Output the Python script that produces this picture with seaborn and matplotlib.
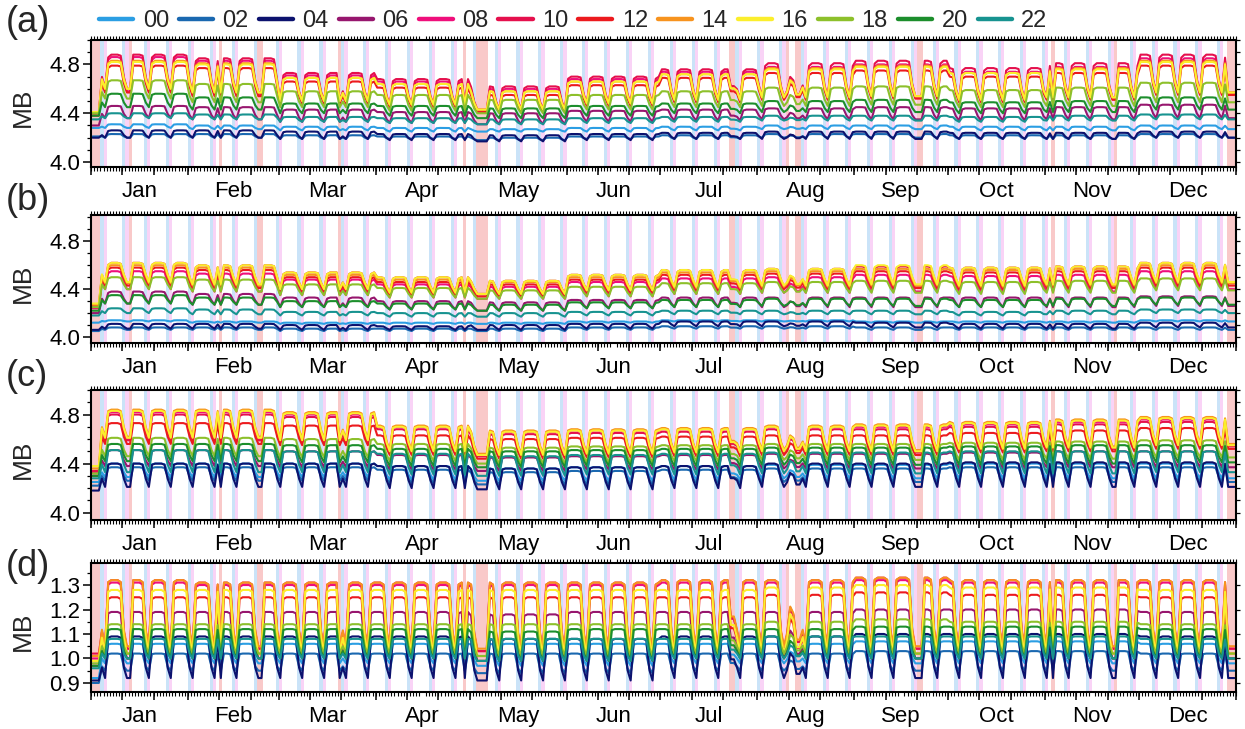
import numpy as np
import pandas as pd
import matplotlib
matplotlib.use("Agg")
import matplotlib.pyplot as plt
from matplotlib.lines import Line2D
from matplotlib.ticker import FormatStrFormatter
import seaborn as sns

sns.set_theme(style="white")
plt.rcParams['font.family'] = ['Liberation Sans', 'DejaVu Sans']

# ---------------- data ----------------
hours = ["00", "02", "04", "06", "08", "10", "12", "14", "16", "18", "20", "22"]
hour_colors = ["#2b9ee3", "#1a68b0", "#0c126e", "#97166e", "#ef0f7b", "#e5104d",
               "#ec1a1e", "#f7931e", "#fbee2c", "#8dc02b", "#1c8e2c", "#179390"]
months = ["Jan", "Feb", "Mar", "Apr", "May", "Jun", "Jul", "Aug", "Sep", "Oct", "Nov", "Dec"]
month_days = [31, 29, 31, 30, 31, 30, 31, 31, 30, 31, 30, 31]   # 2020
first_weekday = 2          # 1 Jan 2020 = Wednesday (Mon=0)

# holidays (day index -> fraction of workday level kept)
holiday_factor = {0: 0, 1: 0, 2: 0, 12: 0, 41: 0, 53: 0, 54: 0, 79: 0, 119: 0,
                  123: 0, 124: 0, 125: 0, 126: 0, 204: 0.45, 205: 0.45, 222: 0.2,
                  225: 0.1, 226: 0.1, 264: 0, 265: 0, 307: 0, 327: 0,
                  363: 0, 364: 0, 365: 0}
partial_days = {223: 0.6, 224: 0.5}
newyear_days = [0, 1, 2]

# weekday shape (Mon..Sun): fraction between off-day and workday level
shape_a = [0.92, 1.0, 1.0, 1.0, 0.97, 0.35, 0.0]
shape_b = [0.90, 1.0, 1.0, 1.0, 0.95, 0.40, 0.0]
shape_c = [0.95, 1.0, 1.0, 1.0, 0.95, 0.35, 0.0]
shape_d = [0.97, 1.0, 1.0, 1.0, 0.97, 0.25, 0.0]

# ---- panel (a): monthly workday / off-day levels ----
a_work = {
    "00": [4.31, 4.30, 4.29, 4.28, 4.27, 4.28, 4.29, 4.30, 4.30, 4.29, 4.29, 4.30],
    "02": [4.23, 4.23, 4.22, 4.21, 4.20, 4.21, 4.22, 4.23, 4.23, 4.22, 4.22, 4.23],
    "04": [4.26, 4.26, 4.25, 4.23, 4.22, 4.23, 4.24, 4.25, 4.25, 4.24, 4.24, 4.25],
    "06": [4.46, 4.45, 4.43, 4.41, 4.40, 4.42, 4.43, 4.44, 4.45, 4.44, 4.45, 4.47],
    "08": [4.86, 4.83, 4.71, 4.66, 4.60, 4.68, 4.74, 4.78, 4.80, 4.74, 4.78, 4.85],
    "10": [4.88, 4.85, 4.73, 4.68, 4.62, 4.70, 4.76, 4.81, 4.83, 4.77, 4.81, 4.88],
    "12": [4.79, 4.77, 4.66, 4.61, 4.55, 4.63, 4.69, 4.73, 4.75, 4.70, 4.73, 4.79],
    "14": [4.83, 4.81, 4.69, 4.64, 4.58, 4.66, 4.72, 4.77, 4.79, 4.73, 4.77, 4.83],
    "16": [4.82, 4.80, 4.69, 4.64, 4.58, 4.66, 4.72, 4.76, 4.78, 4.73, 4.76, 4.82],
    "18": [4.67, 4.64, 4.58, 4.55, 4.51, 4.55, 4.58, 4.61, 4.62, 4.59, 4.61, 4.65],
    "20": [4.56, 4.53, 4.48, 4.46, 4.44, 4.46, 4.48, 4.50, 4.51, 4.49, 4.50, 4.53],
    "22": [4.40, 4.39, 4.37, 4.36, 4.35, 4.36, 4.37, 4.38, 4.38, 4.37, 4.38, 4.39],
}
a_off = {
    "00": [4.28, 4.27, 4.26, 4.25, 4.25, 4.25, 4.26, 4.27, 4.27, 4.26, 4.26, 4.27],
    "02": [4.20, 4.20, 4.19, 4.19, 4.18, 4.19, 4.19, 4.20, 4.20, 4.19, 4.19, 4.20],
    "04": [4.20, 4.20, 4.19, 4.18, 4.17, 4.18, 4.19, 4.19, 4.19, 4.19, 4.19, 4.20],
    "06": [4.36, 4.35, 4.33, 4.32, 4.31, 4.33, 4.34, 4.35, 4.35, 4.34, 4.35, 4.36],
    "08": [4.58, 4.55, 4.49, 4.46, 4.42, 4.47, 4.50, 4.52, 4.53, 4.50, 4.52, 4.56],
    "10": [4.60, 4.57, 4.50, 4.47, 4.43, 4.48, 4.51, 4.53, 4.54, 4.51, 4.53, 4.57],
    "12": [4.57, 4.54, 4.48, 4.45, 4.41, 4.46, 4.49, 4.51, 4.52, 4.49, 4.51, 4.55],
    "14": [4.60, 4.57, 4.50, 4.47, 4.43, 4.48, 4.51, 4.53, 4.54, 4.51, 4.53, 4.57],
    "16": [4.60, 4.57, 4.50, 4.47, 4.43, 4.48, 4.51, 4.53, 4.54, 4.51, 4.53, 4.57],
    "18": [4.52, 4.49, 4.45, 4.42, 4.40, 4.43, 4.45, 4.46, 4.47, 4.45, 4.46, 4.49],
    "20": [4.45, 4.43, 4.40, 4.38, 4.36, 4.38, 4.40, 4.41, 4.41, 4.40, 4.41, 4.43],
    "22": [4.36, 4.35, 4.33, 4.32, 4.31, 4.32, 4.33, 4.34, 4.34, 4.33, 4.34, 4.35],
}
a_newyear = [4.28, 4.21, 4.20, 4.30, 4.40, 4.40, 4.38, 4.40, 4.41, 4.40, 4.38, 4.35]

# ---- panel (b) ----
b_work = {
    "00": [4.14, 4.13, 4.12, 4.12, 4.12, 4.13, 4.14, 4.14, 4.13, 4.13, 4.13, 4.14],
    "02": [4.08, 4.08, 4.07, 4.07, 4.07, 4.08, 4.09, 4.09, 4.08, 4.08, 4.08, 4.08],
    "04": [4.11, 4.11, 4.10, 4.09, 4.10, 4.11, 4.13, 4.13, 4.12, 4.11, 4.11, 4.12],
    "06": [4.38, 4.36, 4.33, 4.30, 4.29, 4.31, 4.33, 4.33, 4.33, 4.33, 4.33, 4.34],
    "08": [4.55, 4.53, 4.48, 4.44, 4.42, 4.46, 4.49, 4.50, 4.52, 4.51, 4.52, 4.55],
    "10": [4.62, 4.60, 4.54, 4.50, 4.47, 4.52, 4.56, 4.57, 4.59, 4.58, 4.59, 4.62],
    "12": [4.58, 4.56, 4.50, 4.46, 4.44, 4.48, 4.52, 4.53, 4.55, 4.54, 4.55, 4.58],
    "14": [4.60, 4.58, 4.52, 4.48, 4.46, 4.50, 4.54, 4.55, 4.57, 4.56, 4.57, 4.60],
    "16": [4.62, 4.60, 4.54, 4.50, 4.47, 4.52, 4.56, 4.57, 4.60, 4.58, 4.59, 4.62],
    "18": [4.50, 4.48, 4.44, 4.41, 4.39, 4.42, 4.45, 4.46, 4.47, 4.46, 4.47, 4.49],
    "20": [4.35, 4.33, 4.30, 4.28, 4.27, 4.29, 4.31, 4.32, 4.32, 4.31, 4.32, 4.33],
    "22": [4.24, 4.23, 4.21, 4.20, 4.20, 4.21, 4.22, 4.22, 4.22, 4.21, 4.22, 4.23],
}
b_off = {
    "00": [4.13, 4.12, 4.11, 4.11, 4.11, 4.12, 4.13, 4.13, 4.12, 4.12, 4.12, 4.13],
    "02": [4.06, 4.06, 4.05, 4.05, 4.05, 4.06, 4.07, 4.07, 4.06, 4.06, 4.06, 4.06],
    "04": [4.07, 4.07, 4.06, 4.06, 4.06, 4.07, 4.09, 4.09, 4.08, 4.07, 4.07, 4.08],
    "06": [4.28, 4.27, 4.25, 4.23, 4.22, 4.24, 4.25, 4.25, 4.25, 4.25, 4.25, 4.26],
    "08": [4.40, 4.38, 4.35, 4.33, 4.32, 4.34, 4.36, 4.37, 4.38, 4.37, 4.38, 4.40],
    "10": [4.45, 4.43, 4.40, 4.37, 4.36, 4.39, 4.41, 4.42, 4.43, 4.42, 4.43, 4.45],
    "12": [4.43, 4.41, 4.38, 4.35, 4.34, 4.37, 4.39, 4.40, 4.41, 4.40, 4.41, 4.43],
    "14": [4.45, 4.43, 4.40, 4.37, 4.36, 4.39, 4.41, 4.42, 4.43, 4.42, 4.43, 4.45],
    "16": [4.46, 4.44, 4.40, 4.37, 4.36, 4.39, 4.42, 4.43, 4.44, 4.43, 4.44, 4.46],
    "18": [4.40, 4.38, 4.35, 4.33, 4.32, 4.34, 4.36, 4.37, 4.37, 4.36, 4.37, 4.39],
    "20": [4.28, 4.27, 4.25, 4.23, 4.22, 4.24, 4.25, 4.26, 4.26, 4.25, 4.26, 4.27],
    "22": [4.20, 4.19, 4.18, 4.17, 4.17, 4.18, 4.19, 4.19, 4.19, 4.18, 4.19, 4.20],
}
b_newyear = [4.12, 4.05, 4.06, 4.20, 4.24, 4.26, 4.25, 4.27, 4.28, 4.25, 4.22, 4.18]

# ---- panel (c) ----
c_work = {
    "00": [4.40, 4.40, 4.40, 4.38, 4.36, 4.37, 4.38, 4.39, 4.39, 4.40, 4.40, 4.40],
    "02": [4.37, 4.37, 4.37, 4.35, 4.33, 4.34, 4.35, 4.36, 4.36, 4.37, 4.37, 4.37],
    "04": [4.40, 4.40, 4.40, 4.38, 4.36, 4.37, 4.38, 4.40, 4.40, 4.41, 4.41, 4.41],
    "06": [4.51, 4.51, 4.50, 4.47, 4.45, 4.46, 4.47, 4.48, 4.48, 4.49, 4.50, 4.50],
    "08": [4.82, 4.82, 4.80, 4.70, 4.66, 4.67, 4.68, 4.70, 4.70, 4.72, 4.74, 4.76],
    "10": [4.80, 4.80, 4.78, 4.68, 4.64, 4.65, 4.66, 4.68, 4.68, 4.70, 4.72, 4.74],
    "12": [4.73, 4.73, 4.71, 4.63, 4.60, 4.61, 4.62, 4.63, 4.63, 4.65, 4.67, 4.69],
    "14": [4.84, 4.84, 4.82, 4.71, 4.67, 4.68, 4.69, 4.71, 4.72, 4.74, 4.76, 4.78],
    "16": [4.83, 4.83, 4.81, 4.70, 4.66, 4.67, 4.68, 4.70, 4.71, 4.73, 4.75, 4.77],
    "18": [4.61, 4.61, 4.60, 4.56, 4.53, 4.54, 4.55, 4.56, 4.56, 4.57, 4.58, 4.59],
    "20": [4.56, 4.56, 4.55, 4.52, 4.50, 4.51, 4.52, 4.53, 4.53, 4.54, 4.55, 4.55],
    "22": [4.51, 4.51, 4.50, 4.48, 4.46, 4.47, 4.48, 4.49, 4.49, 4.50, 4.50, 4.50],
}
c_off = {
    "00": [4.29, 4.29, 4.29, 4.27, 4.26, 4.26, 4.27, 4.28, 4.28, 4.28, 4.28, 4.28],
    "02": [4.26, 4.26, 4.26, 4.24, 4.23, 4.23, 4.24, 4.25, 4.25, 4.25, 4.25, 4.25],
    "04": [4.21, 4.21, 4.21, 4.20, 4.19, 4.19, 4.20, 4.21, 4.21, 4.21, 4.21, 4.21],
    "06": [4.38, 4.38, 4.37, 4.35, 4.34, 4.35, 4.35, 4.36, 4.36, 4.36, 4.37, 4.37],
    "08": [4.60, 4.60, 4.58, 4.50, 4.47, 4.48, 4.49, 4.50, 4.50, 4.52, 4.53, 4.55],
    "10": [4.59, 4.59, 4.57, 4.49, 4.46, 4.47, 4.48, 4.49, 4.49, 4.51, 4.52, 4.54],
    "12": [4.56, 4.56, 4.55, 4.47, 4.44, 4.45, 4.46, 4.47, 4.47, 4.49, 4.50, 4.52],
    "14": [4.62, 4.62, 4.60, 4.51, 4.48, 4.49, 4.50, 4.51, 4.51, 4.53, 4.54, 4.56],
    "16": [4.61, 4.61, 4.59, 4.50, 4.47, 4.48, 4.49, 4.50, 4.50, 4.52, 4.53, 4.55],
    "18": [4.46, 4.46, 4.45, 4.42, 4.40, 4.41, 4.42, 4.43, 4.43, 4.43, 4.44, 4.45],
    "20": [4.42, 4.42, 4.41, 4.38, 4.37, 4.38, 4.38, 4.39, 4.39, 4.39, 4.40, 4.41],
    "22": [4.33, 4.33, 4.33, 4.31, 4.30, 4.31, 4.31, 4.32, 4.32, 4.32, 4.32, 4.33],
}
c_newyear = [4.25, 4.22, 4.18, 4.30, 4.33, 4.34, 4.30, 4.36, 4.38, 4.32, 4.30, 4.28]

# ---- panel (d) ----
d_work = {
    "00": [1.06, 1.06, 1.06, 1.06, 1.06, 1.06, 1.06, 1.06, 1.07, 1.07, 1.07, 1.06],
    "02": [1.02, 1.02, 1.02, 1.02, 1.02, 1.02, 1.02, 1.02, 1.03, 1.03, 1.03, 1.02],
    "04": [1.09, 1.09, 1.09, 1.09, 1.08, 1.08, 1.09, 1.09, 1.10, 1.10, 1.10, 1.09],
    "06": [1.19, 1.19, 1.19, 1.19, 1.18, 1.19, 1.19, 1.19, 1.20, 1.20, 1.20, 1.19],
    "08": [1.31, 1.30, 1.30, 1.30, 1.30, 1.30, 1.31, 1.31, 1.32, 1.31, 1.31, 1.31],
    "10": [1.32, 1.31, 1.31, 1.31, 1.31, 1.31, 1.32, 1.32, 1.33, 1.32, 1.32, 1.32],
    "12": [1.25, 1.25, 1.25, 1.25, 1.25, 1.25, 1.25, 1.26, 1.27, 1.26, 1.26, 1.25],
    "14": [1.32, 1.31, 1.31, 1.31, 1.31, 1.31, 1.32, 1.32, 1.33, 1.32, 1.32, 1.32],
    "16": [1.28, 1.28, 1.28, 1.28, 1.28, 1.28, 1.28, 1.29, 1.30, 1.29, 1.29, 1.28],
    "18": [1.14, 1.14, 1.14, 1.14, 1.14, 1.14, 1.14, 1.15, 1.16, 1.15, 1.15, 1.14],
    "20": [1.12, 1.12, 1.12, 1.12, 1.11, 1.12, 1.12, 1.12, 1.13, 1.13, 1.13, 1.12],
    "22": [1.08, 1.08, 1.08, 1.08, 1.08, 1.08, 1.08, 1.09, 1.09, 1.09, 1.09, 1.08],
}
d_off = {
    "00": [0.98, 0.98, 0.98, 0.98, 0.97, 0.97, 0.98, 0.98, 0.98, 0.98, 0.98, 0.98],
    "02": [0.95, 0.95, 0.95, 0.95, 0.94, 0.94, 0.95, 0.95, 0.95, 0.95, 0.95, 0.95],
    "04": [0.92, 0.92, 0.92, 0.92, 0.91, 0.91, 0.92, 0.92, 0.92, 0.92, 0.92, 0.92],
    "06": [1.00, 1.00, 1.00, 1.00, 0.99, 0.99, 1.00, 1.00, 1.00, 1.00, 1.00, 1.00],
    "08": [1.04, 1.04, 1.04, 1.04, 1.03, 1.03, 1.04, 1.04, 1.04, 1.04, 1.04, 1.04],
    "10": [1.04, 1.04, 1.04, 1.04, 1.03, 1.03, 1.04, 1.04, 1.04, 1.04, 1.04, 1.04],
    "12": [1.02, 1.02, 1.02, 1.02, 1.01, 1.01, 1.02, 1.02, 1.02, 1.02, 1.02, 1.02],
    "14": [1.05, 1.05, 1.05, 1.05, 1.04, 1.04, 1.05, 1.05, 1.05, 1.05, 1.05, 1.05],
    "16": [1.02, 1.02, 1.02, 1.02, 1.01, 1.01, 1.02, 1.02, 1.02, 1.02, 1.02, 1.02],
    "18": [1.02, 1.02, 1.02, 1.02, 1.01, 1.01, 1.02, 1.02, 1.02, 1.02, 1.02, 1.02],
    "20": [1.00, 1.00, 1.00, 1.00, 0.99, 0.99, 1.00, 1.00, 1.00, 1.00, 1.00, 1.00],
    "22": [1.00, 1.00, 1.00, 1.00, 0.99, 0.99, 1.00, 1.00, 1.00, 1.00, 1.00, 1.00],
}
d_newyear = [0.92, 0.90, 0.91, 0.97, 1.00, 1.02, 0.99, 1.01, 0.99, 0.98, 0.97, 0.96]

# ---------------- calendar ----------------
n_days = sum(month_days)
month_of = np.repeat(np.arange(12), month_days)
dow = (first_weekday + np.arange(n_days)) % 7
month_starts = np.concatenate([[0], np.cumsum(month_days)[:-1]])
month_mids = month_starts + np.array(month_days) / 2.0
dekads = sorted([s + k for s in month_starts for k in (0, 10, 20)] + [n_days])


def build_frame(work, off, newyear, shape):
    recs = []
    for i, h in enumerate(hours):
        w = work[h]
        o = off[h]
        for d in range(n_days):
            m = month_of[d]
            if d in newyear_days:
                v = newyear[i]
            else:
                if d in holiday_factor:
                    f = holiday_factor[d]
                elif d in partial_days:
                    f = partial_days[d]
                else:
                    f = shape[dow[d]]
                v = o[m] + f * (w[m] - o[m])
            recs.append((d + 0.5, v, h))
    return pd.DataFrame(recs, columns=["day", "MB", "hour"])


panels = [
    ("(a)", build_frame(a_work, a_off, a_newyear, shape_a), (3.96, 5.0), [4.0, 4.4, 4.8], 0.1),
    ("(b)", build_frame(b_work, b_off, b_newyear, shape_b), (3.95, 5.02), [4.0, 4.4, 4.8], 0.1),
    ("(c)", build_frame(c_work, c_off, c_newyear, shape_c), (3.94, 5.0), [4.0, 4.4, 4.8], 0.1),
    ("(d)", build_frame(d_work, d_off, d_newyear, shape_d), (0.863, 1.39), [0.9, 1.0, 1.1, 1.2, 1.3], 0.05),
]

# axes rectangles in figure pixels (left, top, right, bottom)
W, H = 1245, 729
rects_px = [(91, 40, 1236, 167), (91, 215, 1236, 343), (91, 390, 1236, 520), (91, 563, 1236, 692)]
label_y_px = [22, 200, 377, 566]

sat_color = "#cae3f8"
sun_color = "#f9d3f6"
hol_color = "#f9c9c9"

fig = plt.figure(figsize=(W / 100, H / 100), dpi=100)
palette = dict(zip(hours, hour_colors))

for (lab, df, ylim, yticks, yminor), (l, t, r, b), ly in zip(panels, rects_px, label_y_px):
    ax = fig.add_axes([l / W, 1 - b / H, (r - l) / W, (b - t) / H])
    ax.set_facecolor("white")
    # background shading
    for d in range(n_days):
        if d in holiday_factor:
            c = hol_color
        elif dow[d] == 5:
            c = sat_color
        elif dow[d] == 6:
            c = sun_color
        else:
            continue
        ax.axvspan(d, d + 1, color=c, lw=0, zorder=0)

    sns.lineplot(data=df, x="day", y="MB", hue="hour", palette=palette, hue_order=hours,
                 estimator=None, errorbar=None, legend=False, linewidth=1.5, ax=ax, zorder=2)

    ax.set_xlim(0, n_days)
    ax.set_ylim(*ylim)
    ax.set_xlabel("")
    ax.set_ylabel("MB", fontsize=19)
    ax.yaxis.set_label_coords(-0.049, 0.47)

    # x ticks
    ax.set_xticks(month_mids)
    ax.set_xticklabels(months)
    ax.set_xticks(np.arange(0, n_days + 1), minor=True)
    ax.tick_params(axis="x", which="major", length=0, pad=10, labelsize=16, colors="black")
    ax.tick_params(axis="x", which="minor", length=2.6, width=0.8, direction="out",
                   top=True, bottom=True, color="black")
    sec = ax.secondary_xaxis("bottom")
    sec.set_xticks(dekads)
    sec.tick_params(length=5.5, width=1.1, direction="out", labelbottom=False, color="black")
    sec.spines["bottom"].set_visible(False)

    # y ticks
    ax.set_yticks(yticks)
    ax.yaxis.set_major_formatter(FormatStrFormatter("%.1f"))
    lo = np.ceil(ylim[0] / yminor - 1e-6) * yminor
    ax.set_yticks(np.arange(lo, ylim[1] + 1e-9, yminor), minor=True)
    ax.tick_params(axis="y", which="major", length=6, width=1.1, direction="out", pad=2,
                   labelsize=16, left=True, right=False, colors="black")
    ax.tick_params(axis="y", which="minor", length=3, width=0.9, direction="out",
                   left=True, right=False, color="black")
    sec_y = ax.secondary_yaxis("right")
    lo1 = np.ceil(ylim[0] / 0.1 - 1e-6) * 0.1
    sec_y.set_yticks(np.arange(lo1, ylim[1] + 1e-9, 0.1))
    sec_y.tick_params(length=3, width=0.9, direction="out", labelright=False, color="black")
    sec_y.spines["right"].set_visible(False)

    for s in ax.spines.values():
        s.set_linewidth(1.5)
        s.set_color("black")
        s.set_zorder(5)

    fig.text(6 / W, 1 - ly / H, lab, fontsize=26, ha="left", va="center")

handles = [Line2D([0], [0], color=c, lw=3.2) for c in hour_colors]
fig.legend(handles, hours, loc="center left", bbox_to_anchor=(99 / W, 1 - 21 / H),
           ncol=12, frameon=False, fontsize=17, handlelength=1.45, handletextpad=0.4,
           columnspacing=0.42, borderpad=0, borderaxespad=0)

fig.savefig("out.png", dpi=100)
